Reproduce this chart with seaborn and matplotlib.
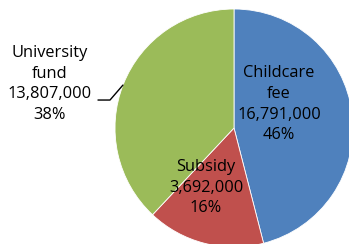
import matplotlib
matplotlib.use("Agg")
import matplotlib.pyplot as plt
import seaborn as sns

# data
names = ["Childcare\nfee", "Subsidy", "University\nfund"]
amounts = ["16,791,000", "3,692,000", "13,807,000"]
shares = [46, 16, 38]
colors = ["#4F81BD", "#C0504D", "#9BBB59"]

sns.set_style("white")
plt.rcParams['font.family'] = ['Open Sans', 'DejaVu Sans']

fig = plt.figure(figsize=(3.49, 2.44), dpi=100)
# pie centre at (234,128) px, radius 119 px
ax = fig.add_axes([115 / 349, -3 / 244, 238 / 349, 238 / 244])

wedges, _ = ax.pie(shares, colors=colors, startangle=90, counterclock=False,
                   radius=1, wedgeprops=dict(linewidth=0.6, edgecolor="white"))
ax.set_xlim(-1, 1)
ax.set_ylim(-1, 1)
ax.axis("off")

labels = [f"{n}\n{a}\n{s}%" for n, a, s in zip(names, amounts, shares)]
label_pos = [(0.378, 0.20), (-0.235, -0.50), (-1.546, 0.37)]
for txt, (x, y) in zip(labels, label_pos):
    ax.text(x, y, txt, ha="center", va="center", fontsize=11.8,
            color="black", linespacing=1.4, clip_on=False)

# leader line for the outside label
ax.plot([-1.143, -1.042, -0.933], [0.235, 0.235, 0.361], color="black",
        linewidth=1.0, clip_on=False)

fig.savefig("out.png", dpi=100)
